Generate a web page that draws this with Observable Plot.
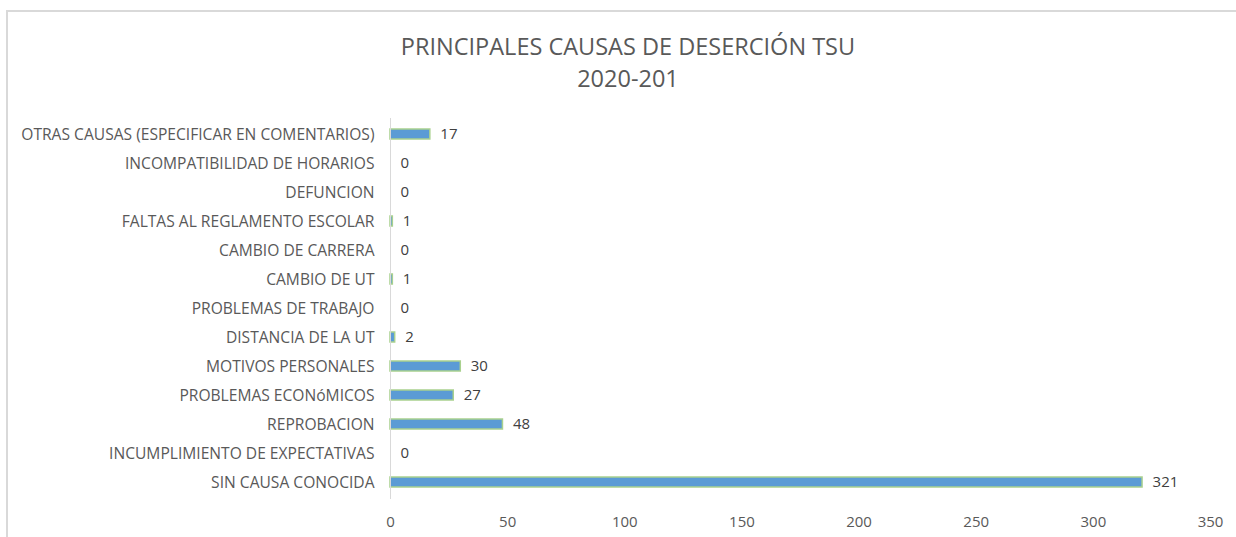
<!DOCTYPE html>
<html>
<head>
<meta charset="utf-8">
<script src="https://cdn.jsdelivr.net/npm/d3@7"></script>
<script src="https://cdn.jsdelivr.net/npm/@observablehq/plot@0.6"></script>
<style>
  html, body { margin: 0; padding: 0; background: #fff; }
  #wrap { position: relative; width: 1236px; height: 537px; overflow: hidden; font-family: "Open Sans", sans-serif; }
  #frame { position: absolute; left: 6px; top: 10px; width: 1240px; height: 600px; border-left: 2px solid #d9d9d9; border-top: 2px solid #d9d9d9; box-sizing: border-box; }
  #title { position: absolute; left: 0; width: 1256px; top: 30px; text-align: center; color: #595959; font-size: 23.5px; line-height: 32px; }
  #chart { position: absolute; left: 0; top: 0; }
</style>
</head>
<body>
<div id="wrap">
  <div id="frame"></div>
  <div id="chart"></div>
  <div id="title">PRINCIPALES CAUSAS DE DESERCIÓN TSU<br>2020-201</div>
</div>
<script>
const categories = [
  "SIN CAUSA CONOCIDA",
  "INCUMPLIMIENTO DE EXPECTATIVAS",
  "REPROBACION",
  "PROBLEMAS ECONóMICOS",
  "MOTIVOS PERSONALES",
  "DISTANCIA DE LA UT",
  "PROBLEMAS DE TRABAJO",
  "CAMBIO DE UT",
  "CAMBIO DE CARRERA",
  "FALTAS AL REGLAMENTO ESCOLAR",
  "DEFUNCION",
  "INCOMPATIBILIDAD DE HORARIOS",
  "OTRAS CAUSAS (ESPECIFICAR EN COMENTARIOS)"
];
const values = [321, 0, 48, 27, 30, 2, 0, 1, 0, 1, 0, 0, 17];
const xTicks = [0, 50, 100, 150, 200, 250, 300, 350];

const data = categories.map((c, i) => ({cause: c, value: values[i]}));
const order = categories.slice().reverse();

const chart = Plot.plot({
  width: 1236,
  height: 537,
  marginLeft: 390,
  marginRight: 26,
  marginTop: 118,
  marginBottom: 38,
  style: {fontFamily: "'Open Sans', sans-serif", fontSize: "15px", color: "#595959", background: "transparent"},
  x: {domain: [0, 350], ticks: xTicks, label: null},
  y: {domain: order, paddingInner: 0.65, paddingOuter: 0.325, label: null},
  marks: [
    Plot.axisX({ticks: xTicks, tickSize: 0, tickPadding: 17, fontSize: 15, fill: "#595959", label: null}),
    Plot.axisY({tickSize: 0, tickPadding: 16, fontSize: 15.6, fill: "#595959", label: null}),
    Plot.barX(data, {x: "value", y: "cause", fill: "#5B9BD5", stroke: "#A9D18E", strokeWidth: 1.5}),
    Plot.ruleX([0], {stroke: "#d9d9d9", strokeWidth: 1}),
    Plot.text(data, {x: "value", y: "cause", text: d => String(d.value), dx: 10, textAnchor: "start", fill: "#404040", fontSize: 15})
  ]
});
document.getElementById("chart").appendChild(chart);
</script>
</body>
</html>
